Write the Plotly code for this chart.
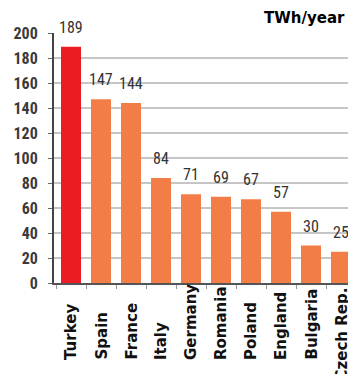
import plotly.graph_objects as go

countries = ["Turkey", "Spain", "France", "Italy", "Germany", "Romania",
             "Poland", "England", "Bulgaria", "Czech Rep."]
values = [189, 147, 144, 84, 71, 69, 67, 57, 30, 25]
highlight = "Turkey"
unit_label = "TWh/year"
y_ticks = [0, 20, 40, 60, 80, 100, 120, 140, 160, 180, 200]

RED = "#EC1C24"
ORANGE = "#F27D47"
colors = [RED if c == highlight else ORANGE for c in countries]

W, H = 348, 374
ML, MR, MT, MB = 54, 0, 33, 91
plot_w = W - ML - MR
plot_h = H - MT - MB
cat_px = 30  # px per category
first_center_px = 71
x0 = -(first_center_px - ML) / cat_px
x1 = x0 + plot_w / cat_px

narrow = "Roboto Condensed, Liberation Sans Narrow, DejaVu Sans Condensed, sans-serif"
label_font = "DejaVu Sans, Verdana, Tahoma, sans-serif"

fig = go.Figure()
fig.add_trace(go.Bar(
    x=countries, y=values, marker=dict(color=colors, line=dict(width=0)),
    hoverinfo="skip",
))

annotations = []
# value labels
for c, v in zip(countries, values):
    annotations.append(dict(
        x=c, y=v, xref="x", yref="y", text=str(v), showarrow=False,
        yanchor="bottom", xanchor="center", yshift=8,
        font=dict(family=narrow, size=16, color="#333333"),
    ))
# category labels (rotated, bottom aligned)
bottom_px = 362
for i, c in enumerate(countries):
    last = i == len(countries) - 1
    if last:
        ypx, anchor = 286, "top"
    else:
        ypx, anchor = bottom_px, "bottom"
    annotations.append(dict(
        x=c, y=-(ypx - (MT + plot_h)) / plot_h, xref="x", yref="paper",
        text=c, showarrow=False, textangle=-90,
        xanchor="center", yanchor=anchor,
        font=dict(family=label_font, size=15, color="#111111", weight="bold"),
    ))
# unit label
annotations.append(dict(
    x=(262 - ML) / plot_w, y=((MT + plot_h) - 18) / plot_h, xref="paper", yref="paper",
    text=unit_label, showarrow=False, xanchor="left", yanchor="middle",
    font=dict(family=label_font, size=15, color="#000000", weight="bold"),
))

fig.update_layout(
    width=W, height=H,
    margin=dict(l=ML, r=MR, t=MT, b=MB, pad=0, autoexpand=False),
    paper_bgcolor="white", plot_bgcolor="white",
    showlegend=False, bargap=1/3,
    annotations=annotations,
    xaxis=dict(
        type="category", range=[x0, x1], showgrid=False, zeroline=False,
        showline=True, linecolor="#555555", linewidth=2,
        ticks="outside", tickson="boundaries", ticklen=4, tickcolor="#999999",
        showticklabels=False, fixedrange=True, automargin=False,
    ),
    yaxis=dict(
        range=[0, 200], tickvals=y_ticks, showgrid=True, gridcolor="#c6c6c6",
        gridwidth=2, zeroline=False, showline=True, linecolor="#444444", linewidth=2,
        ticks="outside", ticklen=4, tickcolor="#666666", ticklabelstandoff=7,
        tickfont=dict(family=narrow, size=16, color="#3a3a3a", weight="bold"),
        fixedrange=True, automargin=False,
    ),
)

fig.write_html(
    "out.html",
    config={"displayModeBar": False},
    post_script="document.body.style.margin='0px';document.body.style.overflow='hidden';",
)
